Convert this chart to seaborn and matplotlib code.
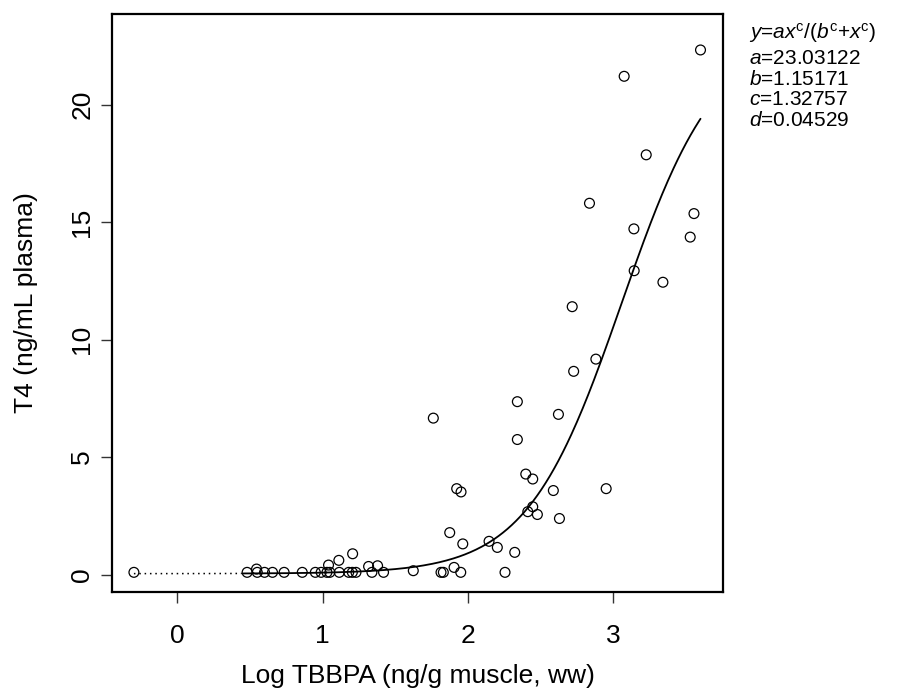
import numpy as np
import pandas as pd
import matplotlib
matplotlib.use("Agg")
import matplotlib.pyplot as plt
import seaborn as sns

# observed fish: log TBBPA in muscle vs plasma T4
log_tbbpa = [-0.30, 0.48, 0.55, 0.545, 0.60, 0.655, 0.735, 0.86, 0.95, 0.99,
             1.03, 1.041, 1.05, 1.112, 1.115, 1.18, 1.205, 1.207, 1.23, 1.317,
             1.34, 1.379, 1.42, 1.625, 1.763, 1.816, 1.832, 1.876, 1.906, 1.924,
             1.952, 1.954, 1.966, 2.147, 2.204, 2.257, 2.324, 2.342, 2.342, 2.400,
             2.414, 2.448, 2.448, 2.480, 2.590, 2.625, 2.632, 2.72, 2.73, 2.839,
             2.883, 2.954, 3.078, 3.145, 3.147, 3.230, 3.345, 3.533, 3.559, 3.604]
t4 = [0.10, 0.10, 0.10, 0.24, 0.10, 0.10, 0.10, 0.10, 0.10, 0.10,
      0.10, 0.41, 0.10, 0.61, 0.10, 0.10, 0.10, 0.89, 0.10, 0.35,
      0.10, 0.38, 0.10, 0.17, 6.66, 0.10, 0.10, 1.79, 0.31, 3.66,
      0.10, 3.52, 1.31, 1.42, 1.16, 0.10, 0.95, 7.36, 5.75, 4.28,
      2.68, 4.07, 2.89, 2.56, 3.58, 6.82, 2.39, 11.4, 8.65, 15.80,
      9.17, 3.66, 21.20, 14.71, 12.93, 17.86, 12.44, 14.36, 15.36, 22.32]

# fitted curve y = d + a x^c / (b^c + x^c), x in ug/g
fit_a = 23.03122
fit_b = 1.15171
fit_c = 1.32757
fit_d = 0.04529

sns.set_style("ticks", {"text.color": "black", "axes.labelcolor": "black",
                        "xtick.color": "black", "ytick.color": "black",
                        "axes.edgecolor": "black"})
plt.rcParams['font.family'] = ['Liberation Sans', 'DejaVu Sans']
plt.rcParams['mathtext.fontset'] = 'custom'
plt.rcParams['mathtext.rm'] = 'Liberation Sans'
plt.rcParams['mathtext.it'] = 'Liberation Sans:italic'

df = pd.DataFrame({'logx': log_tbbpa, 't4': t4})

xs = np.linspace(min(log_tbbpa), max(log_tbbpa), 400)
conc = 10 ** (xs - 3)
ys = fit_d + fit_a * conc ** fit_c / (fit_b ** fit_c + conc ** fit_c)
curve = pd.DataFrame({'logx': xs, 't4': ys})

fig = plt.figure(figsize=(9.02, 6.98), dpi=100)
ax = fig.add_axes([112 / 902, 106 / 698, 611 / 902, 578 / 698])

low = curve[curve['logx'] <= 0.45]
high = curve[curve['logx'] >= 0.45]
sns.lineplot(data=low, x='logx', y='t4', ax=ax, color='black', lw=1.1,
             linestyle=(0, (1, 2.5)), sort=False)
sns.lineplot(data=high, x='logx', y='t4', ax=ax, color='black', lw=1.3, sort=False)
sns.scatterplot(data=df, x='logx', y='t4', ax=ax, s=50, marker='o',
                facecolor='none', edgecolor='black', linewidth=0.9, zorder=3)

ax.set_xlim(-0.451, 3.759)
ax.set_ylim(-0.736, 23.85)
ax.set_xticks([0, 1, 2, 3])
ax.set_yticks([0, 5, 10, 15, 20])
ax.set_xlabel('')
ax.set_ylabel('')
for s in ax.spines.values():
    s.set_visible(True)
    s.set_linewidth(1.6)
    s.set_color('black')
ax.tick_params(axis='both', length=7.7, width=1, color='#333333',
               labelcolor='black', labelsize=19)
ax.tick_params(axis='x', pad=15)
ax.tick_params(axis='y', pad=5)
plt.setp(ax.get_yticklabels(), rotation=90, va='center')

fig.text(417.5 / 902, 1 - 676 / 698, 'Log TBBPA (ng/g muscle, ww)',
         ha='center', va='center', fontsize=19, color='black')
fig.text(26 / 902, 1 - 303 / 698, 'T4 (ng/mL plasma)', rotation=90,
         ha='center', va='center', fontsize=19, color='black')

ann = [r'$y$=$ax^{\mathrm{c}}$/($b^{\mathrm{c}}$+$x^{\mathrm{c}}$)',
       r'$a$=%.5f' % fit_a, r'$b$=%.5f' % fit_b,
       r'$c$=%.5f' % fit_c, r'$d$=%.5f' % fit_d]
base = [39, 64.3, 84.8, 105.3, 125.8]
for txt, yb in zip(ann, base):
    fig.text(749 / 902, 1 - yb / 698, txt, ha='left', va='baseline',
             fontsize=15, color='black')

fig.savefig('out.png', dpi=100)
